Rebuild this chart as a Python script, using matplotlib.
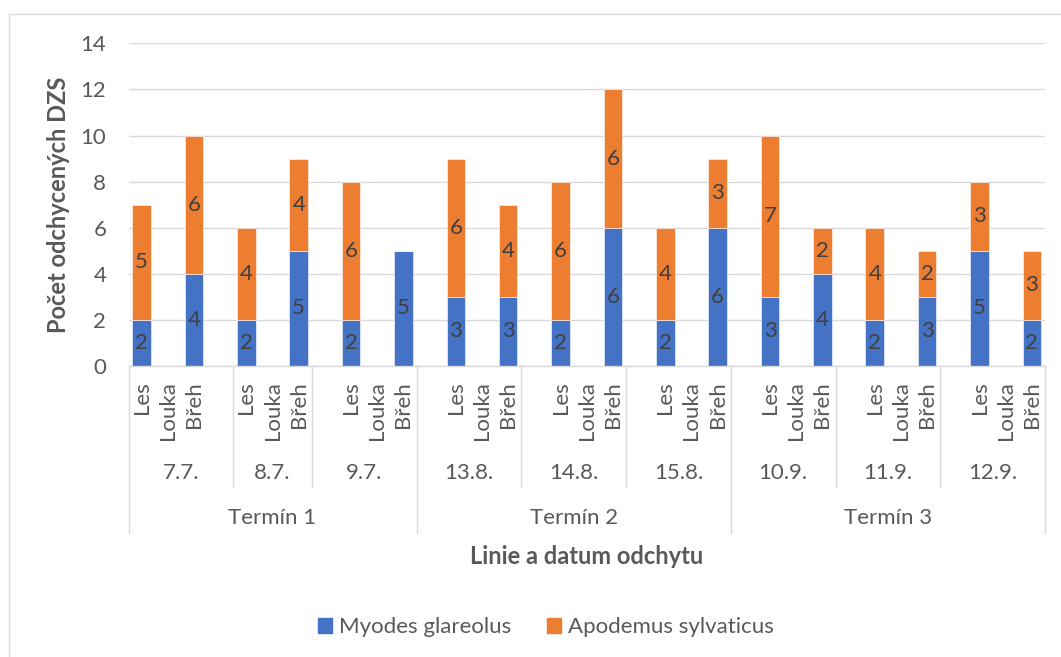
import matplotlib
matplotlib.use("Agg")
import matplotlib.pyplot as plt
from matplotlib.patches import Rectangle, Patch
from matplotlib.transforms import blended_transform_factory

plt.rcParams['font.family'] = ['Lato', 'DejaVu Sans']

# data
dates = ["7.7.", "8.7.", "9.7.", "13.8.", "14.8.", "15.8.", "10.9.", "11.9.", "12.9."]
terms = ["Termín 1", "Termín 2", "Termín 3"]
sites = ["Les", "Louka", "Břeh"]
myodes = [2, 0, 4, 2, 0, 5, 2, 0, 5,
          3, 0, 3, 2, 0, 6, 2, 0, 6,
          3, 0, 4, 2, 0, 3, 5, 0, 2]
apodemus = [5, 0, 6, 4, 0, 4, 6, 0, 0,
            6, 0, 4, 6, 0, 6, 4, 0, 3,
            7, 0, 2, 4, 0, 2, 3, 0, 3]

# layout: every date takes 4 slots (Les, Louka, Brěh, empty row)
date_edges = [-0.5, 3.5, 6.5, 10.5, 14.5, 18.5, 22.5, 26.5, 30.5, 34.5]
term_edges = [-0.5, 10.5, 22.5, 34.5]

blue = '#4472C4'
orange = '#ED7D31'
grey_line = '#d9d9d9'
grey_text = '#595959'
fs = 16
fs_bold = 17

W, H = 1061, 657
fig = plt.figure(figsize=(W / 100, H / 100), dpi=100)
ax_left, ax_right, ax_top, ax_bottom = 128.5, 1045, 43.3, 366
ax = fig.add_axes([ax_left / W, 1 - ax_bottom / H, (ax_right - ax_left) / W, (ax_bottom - ax_top) / H])

x = [4 * g + s for g in range(len(dates)) for s in range(len(sites))]
ax.bar(x, myodes, width=0.71, color=blue, edgecolor='white', linewidth=0.4, zorder=2)
ax.bar(x, apodemus, width=0.71, bottom=myodes, color=orange, edgecolor='white', linewidth=0.4, zorder=2)

for xi, m, a in zip(x, myodes, apodemus):
    if m > 0:
        ax.text(xi, m / 2, str(m), ha='center', va='center', fontsize=fs, color='#404040', zorder=3)
    if a > 0:
        ax.text(xi, m + a / 2, str(a), ha='center', va='center', fontsize=fs, color='#404040', zorder=3)

ax.set_xlim(-0.5, 34.5)
ax.set_ylim(0, 14)
ax.set_yticks(range(0, 15, 2))
ax.set_xticks([])
ax.yaxis.grid(True, color=grey_line, linewidth=1)
ax.set_axisbelow(True)
for side in ['top', 'right', 'left']:
    ax.spines[side].set_visible(False)
ax.spines['bottom'].set_color(grey_line)
ax.spines['bottom'].set_linewidth(1)
ax.tick_params(axis='y', length=0, pad=16, labelsize=fs, labelcolor=grey_text)

# multi-level category axis
trans = blended_transform_factory(ax.transData, ax.transAxes)


def fy(py):
    return (ax_bottom - py) / (ax_bottom - ax_top)


for xi, k in zip(x, range(len(x))):
    ax.text(xi, fy(381), sites[k % 3], rotation=90, ha='center', va='top',
            transform=trans, fontsize=fs, color=grey_text)

for e in date_edges:
    if e not in term_edges:
        ax.plot([e, e], [0, fy(487)], color=grey_line, lw=1, transform=trans, clip_on=False)
for e in term_edges:
    ax.plot([e, e], [0, fy(533)], color=grey_line, lw=1, transform=trans, clip_on=False)

for i, d in enumerate(dates):
    xc = (date_edges[i] + date_edges[i + 1]) / 2
    ax.text(xc, fy(473), d, ha='center', va='center', transform=trans, fontsize=fs, color=grey_text)
for i, t in enumerate(terms):
    xc = (term_edges[i] + term_edges[i + 1]) / 2
    ax.text(xc, fy(518), t, ha='center', va='center', transform=trans, fontsize=fs, color=grey_text)

fig.text(58 / W, 1 - 204.5 / H, 'Počet odchycených DZS', rotation=90, ha='center', va='center',
         fontsize=fs_bold, fontweight='bold', color=grey_text)
fig.text(587 / W, 1 - 557 / H, 'Linie a datum odchytu', ha='center', va='center',
         fontsize=fs_bold, fontweight='bold', color=grey_text)

handles = [Patch(color=blue, label='Myodes glareolus'), Patch(color=orange, label='Apodemus sylvaticus')]
fig.legend(handles=handles, loc='center', bbox_to_anchor=(546 / W, 1 - 627 / H), ncol=2, frameon=False,
           fontsize=fs, handlelength=0.65, handleheight=0.65, handletextpad=0.3, columnspacing=1.6,
           labelcolor=grey_text)

# chart border (only top and left edges are inside the picture)
fig.add_artist(Rectangle((8.5 / W, -0.1), 1.2, 1 - 13.5 / H + 0.1, transform=fig.transFigure,
                         fill=False, edgecolor=grey_line, linewidth=1))

fig.savefig('out.png', dpi=100)
